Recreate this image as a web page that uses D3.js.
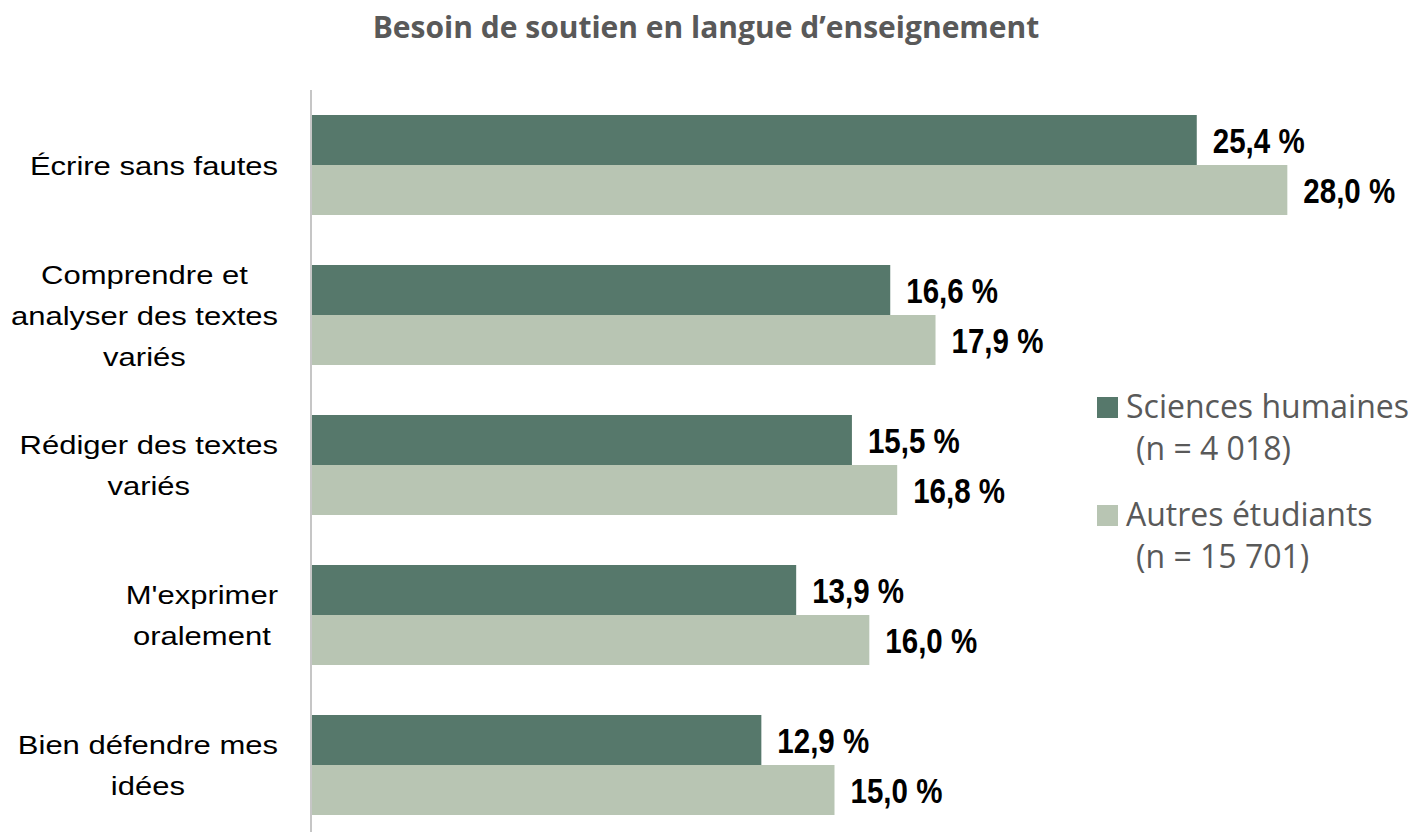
<!DOCTYPE html>
<html>
<head>
<meta charset="utf-8">
<script src="https://cdn.jsdelivr.net/npm/d3@7"></script>
<style>
    body { margin: 0; background: #fff; }
</style>
</head>
<body>
<svg></svg>
<script>
let categories = [
    ["Écrire sans fautes"],
    ["Comprendre et", "analyser des textes", "variés"],
    ["Rédiger des textes", "variés"],
    ["M'exprimer", "oralement"],
    ["Bien défendre mes", "idées"]
]
let seriesNames = ["Sciences humaines", "Autres étudiants"]
let seriesCounts = ["(n = 4 018)", "(n = 15 701)"]
let sciencesHumaines = [25.4, 16.6, 15.5, 13.9, 12.9]
let autresEtudiants = [28.0, 17.9, 16.8, 16.0, 15.0]
let colors = ["#56786b", "#b8c5b3"]

let svgWidth = 1415
let svgHeight = 832
let svg = d3.select("svg")
    .attr("width", svgWidth)
    .attr("height", svgHeight)

let xScale = d3.scaleLinear()
    .domain([0, 30])
    .range([312, 1357])

let yScale = d3.scaleBand()
    .domain(d3.range(categories.length))
    .range([90, 840])
    .paddingInner(1/3)
    .paddingOuter(1/6)

let ySeries = d3.scaleBand()
    .domain([0, 1])
    .range([0, yScale.bandwidth()])

let fmt = v => v.toFixed(1).replace(".", ",") + " %"

//title
svg.append("text")
    .attr("x", 706)
    .attr("y", 38)
    .attr("text-anchor", "middle")
    .style("font-family", "'Open Sans', sans-serif")
    .style("font-weight", "bold")
    .style("font-size", "30px")
    .style("fill", "#595959")
    .text("Besoin de soutien en langue d\u2019enseignement")

//bars + value labels, one group per series
let series = [sciencesHumaines, autresEtudiants]
series.forEach(function(values, s) {
    svg.selectAll(".bar" + s)
        .data(values)
        .enter()
        .append("rect")
        .attr("class", "bar" + s)
        .attr("x", xScale(0))
        .attr("y", (d, i) => yScale(i) + ySeries(s))
        .attr("width", d => xScale(d) - xScale(0))
        .attr("height", ySeries.bandwidth())
        .attr("fill", colors[s])

    // no narrow font installed, so squeeze the bold sans horizontally
    svg.selectAll(".val" + s)
        .data(values)
        .enter()
        .append("text")
        .attr("class", "val" + s)
        .attr("transform", (d, i) =>
            `translate(${xScale(d) + 16}, ${yScale(i) + ySeries(s) + ySeries.bandwidth() / 2}) scale(0.82, 1)`)
        .attr("dy", "0.37em")
        .style("font-family", "'Liberation Sans Narrow', 'Arial Narrow', 'Liberation Sans', sans-serif")
        .style("font-weight", "bold")
        .style("font-size", "36px")
        .style("fill", "#000")
        .text(d => fmt(d))
})

//axis line
let yAxis = d3.axisLeft(yScale).tickSize(0).tickFormat("")
svg.append("g")
    .attr("transform", `translate(${xScale(0) - 1}, 0)`)
    .call(yAxis)
    .call(g => g.select(".domain")
        .attr("d", "M0,90V832")
        .attr("stroke", "#c6c6c6")
        .attr("stroke-width", 2))

//category labels, lines centred inside a right-aligned block
let labelRight = 278
let lineGap = 41
categories.forEach(function(lines, i) {
    let cy = yScale(i) + yScale.bandwidth() / 2
    let g = svg.append("g")
        .attr("transform", `translate(0, ${cy}) scale(1, 0.86)`)
    let t = g.append("text")
        .attr("text-anchor", "middle")
        .style("font-family", "'Liberation Sans', Arial, sans-serif")
        .style("font-size", "31px")
        .style("fill", "#000")
    let spans = t.selectAll("tspan")
        .data(lines)
        .enter()
        .append("tspan")
        .attr("y", (d, j) => ((j - (lines.length - 1) / 2) * lineGap) / 0.86)
        .attr("dy", "0.36em")
        .text(d => d)
    let maxW = d3.max(spans.nodes(), n => n.getComputedTextLength())
    spans.attr("x", labelRight - maxW / 2)
})

//legend
let legendY = [418, 526]
seriesNames.forEach(function(name, s) {
    svg.append("rect")
        .attr("x", 1097)
        .attr("y", legendY[s] - 21)
        .attr("width", 21)
        .attr("height", 21)
        .attr("fill", colors[s])
    svg.append("text")
        .attr("x", 1126)
        .attr("y", legendY[s])
        .style("font-family", "'Open Sans', sans-serif")
        .style("font-size", "32px")
        .style("fill", "#595959")
        .text(name)
    svg.append("text")
        .attr("x", 1136)
        .attr("y", legendY[s] + 42)
        .style("font-family", "'Open Sans', sans-serif")
        .style("font-size", "32px")
        .style("fill", "#595959")
        .text(seriesCounts[s])
})
</script>
</body>
</html>
